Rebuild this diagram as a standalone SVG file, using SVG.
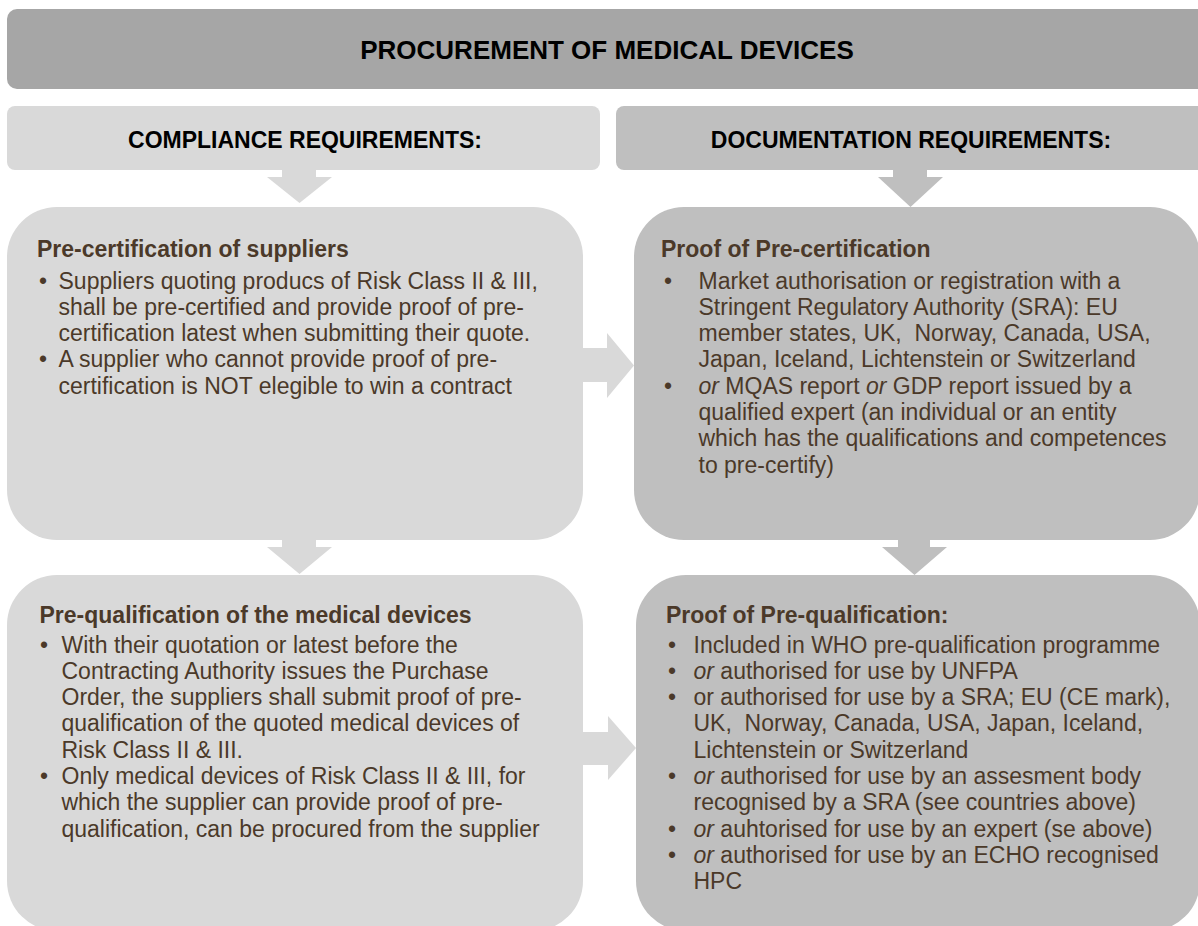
<svg xmlns="http://www.w3.org/2000/svg" width="1198" height="926" viewBox="0 0 1198 926">
  <style>
    text { font-family: "Liberation Sans", Arial, Helvetica, sans-serif; white-space: pre; }
    .title { font-size: 26px; font-weight: bold; fill: #000; text-anchor: middle; }
    .head { font-size: 23px; font-weight: bold; fill: #000; text-anchor: middle; }
    .h { font-size: 23px; font-weight: bold; fill: #4b3929; }
    .b { font-size: 23px; fill: #4b3929; }
    .light { fill: #d9d9d9; }
    .mid { fill: #bfbfbf; }
    .dark { fill: #a6a6a6; }
    .em { font-style: italic; }
  </style>

  <!-- banner -->
  <g id="title">
    <rect class="dark" x="7" y="9" width="1205" height="80" rx="10"/>
    <text class="title" x="607" y="59">PROCUREMENT OF MEDICAL DEVICES</text>
  </g>

  <!-- column headers -->
  <g id="compliance-header">
    <rect class="light" x="7" y="106" width="593" height="64" rx="8"/>
    <text class="head" x="305" y="148">COMPLIANCE REQUIREMENTS:</text>
  </g>
  <g id="documentation-header">
    <rect class="mid" x="616" y="106" width="600" height="64" rx="8"/>
    <text class="head" x="911" y="148">DOCUMENTATION REQUIREMENTS:</text>
  </g>

  <!-- block arrows between the panels -->
  <g id="connectors">
    <path class="light" d="M282 168 H316 V177 H332 L299.5 203 L267 177 H282 Z"/>
    <path class="mid" d="M893 168 H927 V177 H943 L910.5 207 L878 177 H893 Z"/>
    <path class="light" d="M282 538 H316 V547 H332 L299.5 574 L267 547 H282 Z"/>
    <path class="mid" d="M898 538 H930 V547 H947 L914.5 575 L882 547 H898 Z"/>
    <path class="light" d="M575 348 H607 V333 L634 365.5 L607 398 V382 H575 Z"/>
    <path class="light" d="M575 732 H608 V716 L636 748 L608 780 V765 H575 Z"/>
  </g>

  <g id="pre-certification">
    <rect class="light" x="7" y="207" width="576" height="333" rx="50"/>
    <text class="h" x="37" y="256.5">Pre-certification of suppliers</text>
    <text class="b" x="39" y="288.5">•</text>
    <text class="b" x="58.5" y="288.5">Suppliers quoting producs of Risk Class II &amp; III,</text>
    <text class="b" x="58.5" y="314.8">shall be pre-certified and provide proof of pre-</text>
    <text class="b" x="58.5" y="341.1">certification latest when submitting their quote.</text>
    <text class="b" x="39" y="367.4">•</text>
    <text class="b" x="58.5" y="367.4">A supplier who cannot provide proof of pre-</text>
    <text class="b" x="58.5" y="393.7">certification is NOT elegible to win a contract</text>
  </g>

  <g id="proof-pre-certification">
    <rect class="mid" x="634" y="207" width="566" height="333" rx="50"/>
    <text class="h" x="661" y="256.5">Proof of Pre-certification</text>
    <text class="b" x="664" y="288.5">•</text>
    <text class="b" x="698.5" y="288.5">Market authorisation or registration with a</text>
    <text class="b" x="698.5" y="314.8">Stringent Regulatory Authority (SRA): EU</text>
    <text class="b" x="698.5" y="341.1">member states, UK,  Norway, Canada, USA,</text>
    <text class="b" x="698.5" y="367.4">Japan, Iceland, Lichtenstein or Switzerland</text>
    <text class="b" x="664" y="393.7">•</text>
    <text class="b" x="698.5" y="393.7"><tspan class="em">or</tspan> MQAS report <tspan class="em">or</tspan> GDP report issued by a</text>
    <text class="b" x="698.5" y="420">qualified expert (an individual or an entity</text>
    <text class="b" x="698.5" y="446.3">which has the qualifications and competences</text>
    <text class="b" x="698.5" y="472.6">to pre-certify)</text>
  </g>

  <g id="pre-qualification">
    <rect class="light" x="7" y="575" width="576" height="356" rx="50"/>
    <text class="h" x="39.5" y="622.5">Pre-qualification of the medical devices</text>
    <text class="b" x="40" y="652.5">•</text>
    <text class="b" x="61.5" y="652.5">With their quotation or latest before the</text>
    <text class="b" x="61.5" y="678.8">Contracting Authority issues the Purchase</text>
    <text class="b" x="61.5" y="705.1">Order, the suppliers shall submit proof of pre-</text>
    <text class="b" x="61.5" y="731.4">qualification of the quoted medical devices of</text>
    <text class="b" x="61.5" y="757.7">Risk Class II &amp; III.</text>
    <text class="b" x="40" y="784">•</text>
    <text class="b" x="61.5" y="784">Only medical devices of Risk Class II &amp; III, for</text>
    <text class="b" x="61.5" y="810.3">which the supplier can provide proof of pre-</text>
    <text class="b" x="61.5" y="836.6">qualification, can be procured from the supplier</text>
  </g>

  <g id="proof-pre-qualification">
    <rect class="mid" x="636" y="575" width="564" height="356" rx="50"/>
    <text class="h" x="666" y="622.5">Proof of Pre-qualification:</text>
    <text class="b" x="668" y="652.5">•</text>
    <text class="b" x="693.5" y="652.5">Included in WHO pre-qualification programme</text>
    <text class="b" x="668" y="678.8">•</text>
    <text class="b" x="693.5" y="678.8"><tspan class="em">or</tspan> authorised for use by UNFPA</text>
    <text class="b" x="668" y="705.1">•</text>
    <text class="b" x="693.5" y="705.1">or authorised for use by a SRA; EU (CE mark),</text>
    <text class="b" x="693.5" y="731.4">UK,  Norway, Canada, USA, Japan, Iceland,</text>
    <text class="b" x="693.5" y="757.7">Lichtenstein or Switzerland</text>
    <text class="b" x="668" y="784">•</text>
    <text class="b" x="693.5" y="784"><tspan class="em">or</tspan> authorised for use by an assesment body</text>
    <text class="b" x="693.5" y="810.3">recognised by a SRA (see countries above)</text>
    <text class="b" x="668" y="836.6">•</text>
    <text class="b" x="693.5" y="836.6"><tspan class="em">or</tspan> auhtorised for use by an expert (se above)</text>
    <text class="b" x="668" y="862.9">•</text>
    <text class="b" x="693.5" y="862.9"><tspan class="em">or</tspan> authorised for use by an ECHO recognised</text>
    <text class="b" x="693.5" y="889.2">HPC</text>
  </g>
</svg>
